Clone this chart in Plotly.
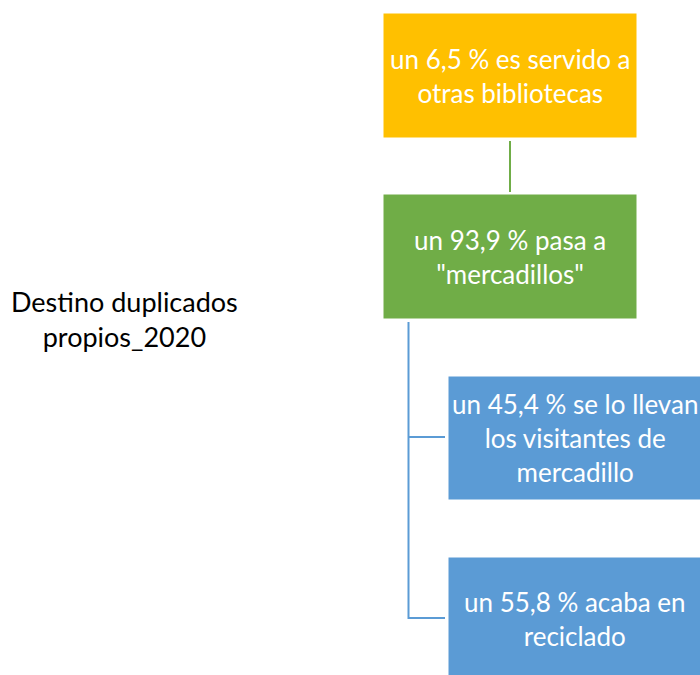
import plotly.graph_objects as go

# diagram content
title_text = "Destino duplicados<br>propios_2020"
node_labels = [
    "un 6,5 % es servido a<br>otras bibliotecas",
    "un 93,9 % pasa a<br>\"mercadillos\"",
    "un 45,4 % se lo llevan<br>los visitantes de<br>mercadillo",
    "un 55,8 % acaba en<br>reciclado",
]
node_colors = ["#FFC000", "#70AD47", "#5B9BD5", "#5B9BD5"]
# box extents in pixel units (x0, x1, y0, y1)
node_boxes = [
    (383, 637, 13, 138),
    (383, 637, 194, 319),
    (448, 702, 376, 500),
    (448, 702, 557, 681),
]

FONT = "Lato"

fig = go.Figure()

shapes = []
for (x0, x1, y0, y1), col in zip(node_boxes, node_colors):
    shapes.append(dict(type="rect", x0=x0, x1=x1, y0=y0, y1=y1,
                       fillcolor=col, line=dict(color="#ffffff", width=1),
                       layer="below"))

# connectors
shapes.append(dict(type="line", x0=510, x1=510, y0=141, y1=192,
                   line=dict(color="#70AD47", width=2)))
shapes.append(dict(type="path", path="M 445 437 L 408.5 437 L 408.5 322 M 408.5 437 L 408.5 618 L 445 618",
                   line=dict(color="#5B9BD5", width=2)))

annotations = []
for (x0, x1, y0, y1), lab in zip(node_boxes, node_labels):
    annotations.append(dict(x=(x0 + x1) / 2, y=(y0 + y1) / 2, text=lab,
                            showarrow=False, xanchor="center", yanchor="middle",
                            font=dict(family=FONT, size=26, color="white")))
annotations.append(dict(x=124, y=319, text=title_text, showarrow=False,
                        xanchor="center", yanchor="middle",
                        font=dict(family=FONT, size=27, color="black")))

fig.update_layout(
    width=700, height=675,
    margin=dict(l=0, r=0, t=0, b=0),
    paper_bgcolor="white", plot_bgcolor="white",
    shapes=shapes, annotations=annotations,
    xaxis=dict(range=[0, 700], visible=False, fixedrange=True),
    yaxis=dict(range=[675, 0], visible=False, fixedrange=True),
    showlegend=False,
)

fig.write_html("out.html", config={"displayModeBar": False},
               post_script="document.body.style.margin='0';")
